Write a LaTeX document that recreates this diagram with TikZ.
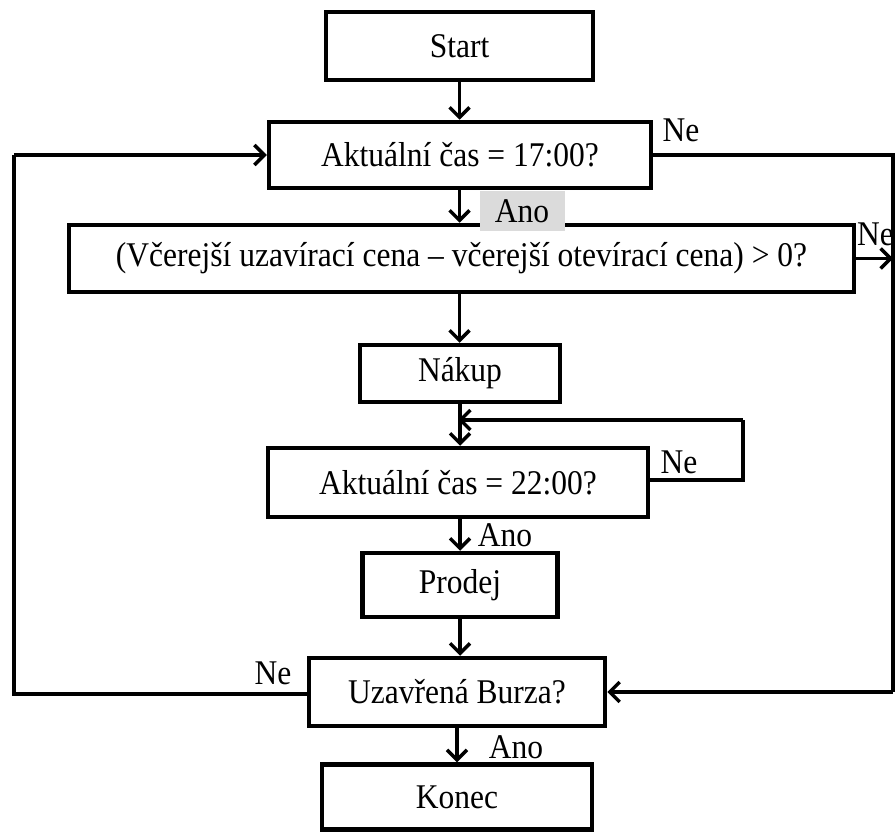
\documentclass[tikz,border=0pt]{standalone}
\usepackage{fontspec}
\setmainfont{Liberation Serif}
\usetikzlibrary{arrows.meta}
\newcommand{\tall}[1]{\scalebox{1}[1.1]{#1}}
\begin{document}
\begin{tikzpicture}[x=1pt,y=-1pt,
  box/.style={draw=black,line width=4.5pt,fill=white,inner sep=0pt,font=\fontsize{31.5}{36}\selectfont},
  lbl/.style={inner sep=1pt,font=\fontsize{31.5}{36}\selectfont},
  conn/.style={line width=3.5pt},
  arr/.style={conn,-{Straight Barb[length=10pt,width=20pt,line width=3.5pt]}}]
\useasboundingbox (0,0) rectangle (896,834);
\node[box,minimum width=267pt,minimum height=68pt] (start) at (459.5,46) {\tall{Start}};
\node[box,minimum width=382pt,minimum height=66pt] (q1) at (460,155) {\tall{Aktuální čas = 17:00?}};
\node[box,minimum width=785pt,minimum height=67pt] (q2) at (461.5,258.5) {\tall{(Včerejší uzavírací cena – včerejší otevírací cena) > 0?}};
\node[box,minimum width=200pt,minimum height=57pt] (nakup) at (460,373.5) {\tall{Nákup}};
\node[box,minimum width=380pt,minimum height=69pt] (q3) at (458,482.5) {\tall{Aktuální čas = 22:00?}};
\node[box,minimum width=195pt,minimum height=64pt] (prodej) at (460,585) {\tall{Prodej}};
\node[box,minimum width=296pt,minimum height=68pt] (q4) at (457,692) {\tall{Uzavřená Burza?}};
\node[box,minimum width=270pt,minimum height=65pt] (konec) at (457,797) {\tall{Konec}};
% labels
\node[lbl] (ne1) at (681,130) {\tall{Ne}};
\node[lbl,fill=black!14,minimum width=85pt,minimum height=40pt] (ano1) at (522,211) {\tall{Ano}};
\node[lbl,anchor=east,inner sep=0pt] (ne2) at (894,234) {\tall{Ne}};
\node[lbl] (ne3) at (679,462) {\tall{Ne}};
\node[lbl] (ano2) at (505,535) {\tall{Ano}};
\node[lbl] (ne4) at (273,673) {\tall{Ne}};
\node[lbl] (ano3) at (516,747) {\tall{Ano}};
% coordinates
\coordinate (r1) at (893,155);
\coordinate (r2) at (893,692);
\coordinate (r3) at (893,258.5);
\coordinate (l1) at (14,694);
\coordinate (l2) at (14,155);
\coordinate (m1) at (743,480);
\coordinate (m2) at (743,420);
\coordinate (m3) at (458,420);
% connectors
\draw[arr] (start.south) -- (start.south|-q1.north);
\draw[arr] (q1.south -| start.south) -- (start.south|-q2.north);
\draw[arr] (start.south|-q2.south) -- (start.south|-nakup.north);
\draw[arr] (nakup.south) -- (nakup.south|-q3.north);
\draw[arr] (q3.south -| nakup.south) -- (nakup.south|-prodej.north);
\draw[arr] (prodej.south) -- (prodej.south|-q4.north);
\draw[arr] (q4.south) -- (q4.south|-konec.north);
\draw[conn] (q1.east) -- (r1) -- (r2);
\draw[arr] (r2) -- (q4.east);
\draw[arr] (q2.east) -- (r3);
\draw[conn] (q4.west |- l1) -- (l1) -- (l2);
\draw[arr] (l2) -- (q1.west);
\draw[conn] (q3.east |- m1) -- (m1) -- (m2);
\draw[arr] (m2) -- (m3);
\end{tikzpicture}
\end{document}
